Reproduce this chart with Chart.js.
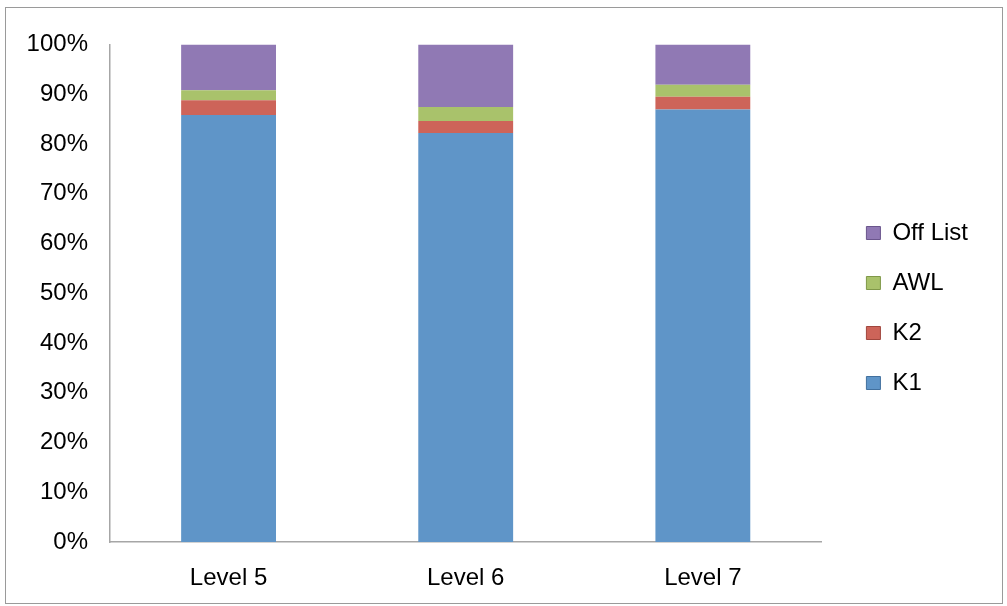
<!DOCTYPE html>
<html>
<head>
<meta charset="utf-8">
<script src="https://cdn.jsdelivr.net/npm/chart.js@4"></script>
<style>
  body { margin: 0; background: #fff; }
  #frame {
    position: absolute; left: 5px; top: 7px;
    width: 996px; height: 595px;
    border: 1px solid #9a9a9a;
  }
</style>
</head>
<body>
<div id="frame"><canvas id="levelChart"></canvas></div>
<script>
// ---------------------------
// Data (percent of words per list)
// ---------------------------
const categories = ['Level 5', 'Level 6', 'Level 7'];
const k1Values      = [85.8, 82.2, 86.9];
const k2Values      = [3.0, 2.4, 2.6];
const awlValues     = [2.0, 2.8, 2.4];
const offListValues = [9.2, 12.6, 8.1];
const yTicks = [0, 10, 20, 30, 40, 50, 60, 70, 80, 90, 100];

const seriesColors = {
    k1:  { fill: '#5f95c8', edge: '#41709e' },
    k2:  { fill: '#cd6459', edge: '#a0463d' },
    awl: { fill: '#a9c26b', edge: '#7f9848' },
    off: { fill: '#9079b4', edge: '#6a558c' },
};

const font = { family: '"Liberation Sans", Arial, sans-serif', size: 24 };
const axisColor = '#a6a6a6';

function makeSet(label, data, c) {
    return { label, data, backgroundColor: c.fill, borderColor: c.edge, borderWidth: 0 };
}

const legendLabels = Chart.defaults.plugins.legend.labels.generateLabels;

new Chart(document.getElementById('levelChart'), {
    type: 'bar',
    data: {
        labels: categories,
        datasets: [
            makeSet('K1', k1Values, seriesColors.k1),
            makeSet('K2', k2Values, seriesColors.k2),
            makeSet('AWL', awlValues, seriesColors.awl),
            makeSet('Off List', offListValues, seriesColors.off),
        ]
    },
    options: {
        responsive: true,
        maintainAspectRatio: false,
        animation: false,
        layout: { padding: { top: 5, right: 24, bottom: 0, left: 0 } },
        datasets: { bar: { barPercentage: 0.4, categoryPercentage: 1 } },
        scales: {
            x: {
                stacked: true,
                grid: { display: false },
                border: { color: axisColor, width: 1.5 },
                ticks: { color: '#000', font, padding: 14 },
                afterFit: s => { s.height = 61; }
            },
            y: {
                stacked: true,
                min: 0,
                max: 100,
                afterBuildTicks: s => { s.ticks = yTicks.map(v => ({ value: v })); },
                grid: { display: false, drawTicks: false },
                border: { color: axisColor, width: 1.5 },
                ticks: { color: '#000', font, padding: 22, callback: v => v + '%' },
                afterFit: s => { s.width = 104; }
            },
            // spacer above the plot
            topGap: {
                type: 'category',
                position: 'top',
                grid: { display: false },
                border: { display: false },
                ticks: { display: false },
                afterFit: s => { s.height = 30; }
            },
            // spacer between plot and legend
            gap: {
                type: 'linear',
                position: 'right',
                grid: { display: false },
                border: { display: false },
                ticks: { display: false },
                afterFit: s => { s.width = 19; }
            }
        },
        plugins: {
            tooltip: { enabled: false },
            legend: {
                position: 'right',
                reverse: true,
                labels: {
                    color: '#000',
                    font,
                    boxWidth: 14,
                    boxHeight: 13,
                    padding: 26,
                    generateLabels: chart => legendLabels(chart).map(item => {
                        const c = Object.values(seriesColors)[item.datasetIndex];
                        return { ...item, strokeStyle: c.edge, lineWidth: 1 };
                    })
                }
            }
        }
    }
});
</script>
</body>
</html>
